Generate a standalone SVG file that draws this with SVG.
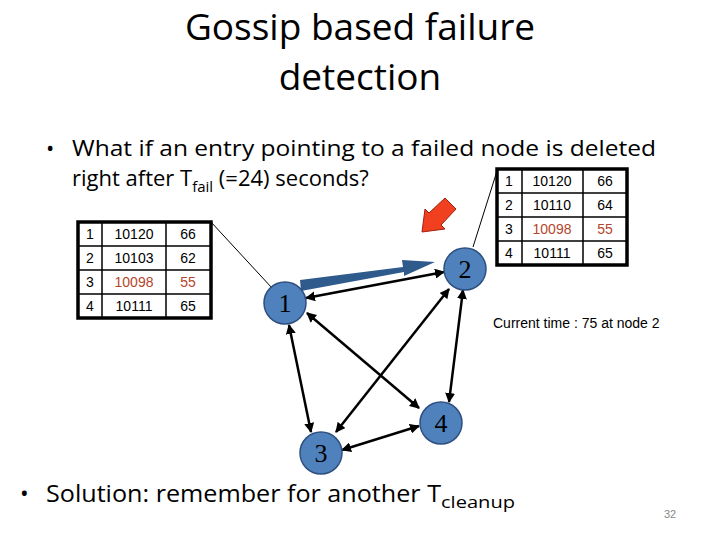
<svg xmlns="http://www.w3.org/2000/svg" width="720" height="540" viewBox="0 0 720 540">
<style>
.t{font-family:"Open Sans","Liberation Sans",sans-serif;fill:#000}
.c{font-family:"Liberation Sans",Arial,sans-serif;font-size:14px;text-anchor:middle}
.red{fill:#b5452a}
.node{fill:#4f81bd;stroke:#2f4f7f;stroke-width:1.5}
.nl{font-family:"Liberation Serif",serif;font-size:26px;text-anchor:middle;fill:#000}
.e{stroke:#000;stroke-width:2.5;marker-start:url(#a);marker-end:url(#a)}
.tb{fill:#fff;stroke:#000;stroke-width:3.5}
.g{stroke:#000;stroke-width:1.5}
</style>
<defs>
<marker id="a" viewBox="0 0 10 10" refX="9" refY="5" markerWidth="4" markerHeight="4" orient="auto-start-reverse"><path d="M0,0L10,5L0,10z" fill="#000"/></marker>
</defs>
<rect width="720" height="540" fill="#fff"/>
<text class="t" x="360" y="40" font-size="37" text-anchor="middle">Gossip based failure</text>
<text class="t" x="360" y="90" font-size="37" text-anchor="middle">detection</text>
<text class="t" x="46" y="156" font-size="22">•</text>
<text class="t" x="72" y="156" font-size="22" textLength="584" lengthAdjust="spacingAndGlyphs">What if an entry pointing to a failed node is deleted</text>
<text class="t" x="72" y="186" font-size="22">right after T<tspan font-size="15" dy="6">fail</tspan><tspan dy="-6"> (=24) seconds?</tspan></text>
<g id="table1">
<rect class="tb" x="78" y="222" width="133" height="96"/>
<path class="g" d="M78,246H211M78,270H211M78,294H211M102,222V318M166,222V318"/>
<text class="c" x="90" y="239">1</text><text class="c" x="134" y="239">10120</text><text class="c" x="188" y="239">66</text>
<text class="c" x="90" y="263">2</text><text class="c" x="134" y="263">10103</text><text class="c" x="188" y="263">62</text>
<text class="c" x="90" y="287">3</text><text class="c red" x="134" y="287">10098</text><text class="c red" x="188" y="287">55</text>
<text class="c" x="90" y="311">4</text><text class="c" x="134" y="311">10111</text><text class="c" x="188" y="311">65</text>
</g>
<g id="table2">
<rect class="tb" x="497" y="169" width="130" height="96"/>
<path class="g" d="M497,193H627M497,217H627M497,241H627M522,169V265M583,169V265"/>
<text class="c" x="509" y="186">1</text><text class="c" x="552" y="186">10120</text><text class="c" x="605" y="186">66</text>
<text class="c" x="509" y="210">2</text><text class="c" x="552" y="210">10110</text><text class="c" x="605" y="210">64</text>
<text class="c" x="509" y="234">3</text><text class="c red" x="552" y="234">10098</text><text class="c red" x="605" y="234">55</text>
<text class="c" x="509" y="258">4</text><text class="c" x="552" y="258">10111</text><text class="c" x="605" y="258">65</text>
</g>
<g id="callouts" stroke="#000" stroke-width="1" fill="none">
<path d="M211,222L272,288M497,171L473,247"/>
</g>
<g id="bigarrow"><polygon points="300,280 403,267 402,260 435,262 404,276 404,272 301,291" fill="#2e5a8c"/></g>
<g id="redarrow"><polygon points="422,232 425,209 429,213 445,198 456,209 441,225 445,229" fill="#f04020" stroke="#a02010" stroke-width="1"/></g>
<g id="connectors">
<line class="e" x1="306" y1="298" x2="444" y2="272"/>
<line class="e" x1="289" y1="325" x2="311" y2="432"/>
<line class="e" x1="307" y1="313" x2="419" y2="408"/>
<line class="e" x1="449" y1="289" x2="336" y2="432"/>
<line class="e" x1="463" y1="290" x2="449" y2="402"/>
<line class="e" x1="342" y1="450" x2="419" y2="426"/>
</g>
<g id="node1"><circle class="node" cx="285" cy="303" r="21"/><text class="nl" x="285" y="312">1</text></g>
<g id="node2"><circle class="node" cx="465" cy="269" r="21"/><text class="nl" x="465" y="278">2</text></g>
<g id="node3"><circle class="node" cx="321" cy="453" r="21"/><text class="nl" x="321" y="462">3</text></g>
<g id="node4"><circle class="node" cx="441" cy="423" r="21"/><text class="nl" x="441" y="432">4</text></g>
<text font-family="Liberation Sans,Arial,sans-serif" font-size="14" x="493" y="328">Current time : 75 at node 2</text>
<text class="t" x="20" y="502" font-size="23">•</text>
<text class="t" x="46" y="502" font-size="23" textLength="395" lengthAdjust="spacingAndGlyphs">Solution: remember for another T</text>
<text class="t" x="441" y="508" font-size="16" textLength="74" lengthAdjust="spacingAndGlyphs">cleanup</text>
<text font-family="Liberation Sans,Arial,sans-serif" font-size="11" fill="#888" x="664" y="518">32</text>
</svg>
